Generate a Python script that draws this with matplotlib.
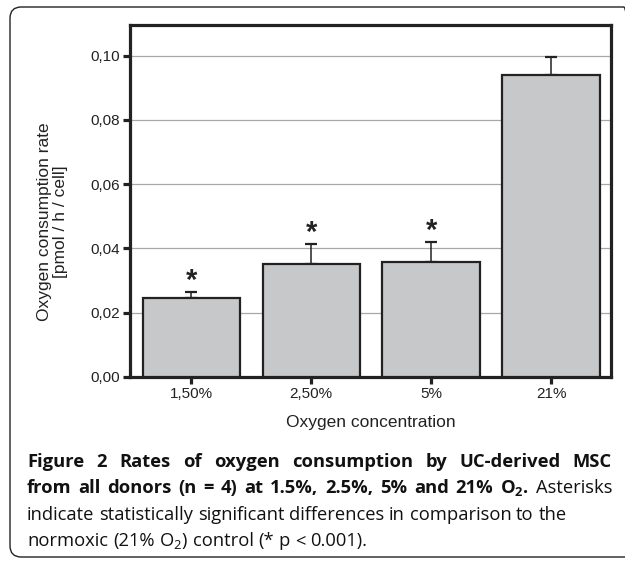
import numpy as np
import matplotlib.pyplot as plt
from matplotlib.patches import FancyBboxPatch

# data
categories = ['1,50%', '2,50%', '5%', '21%']
rates = [0.0245, 0.0350, 0.0357, 0.0940]
errors = [0.0020, 0.0065, 0.0062, 0.0055]
significant = [True, True, True, False]
y_ticks = [0.00, 0.02, 0.04, 0.06, 0.08, 0.10]
y_ticklabels = ['0,00', '0,02', '0,04', '0,06', '0,08', '0,10']

W, H = 625, 562
fig = plt.figure(figsize=(W / 100, H / 100), dpi=100)
plt.rcParams['font.family'] = ['Liberation Sans', 'DejaVu Sans']

# outer rounded frame of the figure panel
frame = FancyBboxPatch((10 / W, 1 - 557 / H), 625 / W, (557 - 7) / H,
                       boxstyle='round,pad=0,rounding_size=0.018',
                       transform=fig.transFigure, fill=False,
                       edgecolor='#222222', linewidth=1.0, clip_on=False,
                       mutation_aspect=W / H)
fig.patches.append(frame)

ax = fig.add_axes([130 / W, 1 - 377 / H, (611 - 130) / W, (377 - 25) / H])
x = np.arange(len(categories))
ax.bar(x, rates, width=0.81, color='#c7c8ca', edgecolor='#222222',
       linewidth=1.6, zorder=3)
ax.errorbar(x, rates, yerr=[np.zeros(len(errors)), errors], fmt='none',
            ecolor='#222222', elinewidth=1.1, capsize=4, capthick=1.6, zorder=2)
for xi, r, e, s in zip(x, rates, errors, significant):
    if s:
        ax.text(xi, r + e - 0.0009, '*', ha='center', va='bottom',
                fontsize=21, fontweight='bold', color='#222222')

ax.set_xlim(-0.51, 3.5)
ax.set_ylim(0, 0.1095)
ax.set_yticks(y_ticks)
ax.set_yticklabels(y_ticklabels)
ax.set_xticks(x)
ax.set_xticklabels(categories)
ax.yaxis.grid(True, color='#a8a8a8', linewidth=0.9, zorder=0)
ax.set_axisbelow(True)
for sp in ax.spines.values():
    sp.set_linewidth(2.3)
    sp.set_color('#222222')
ax.tick_params(axis='both', length=5, width=2.3, color='#222222',
               labelsize=11, labelcolor='#222222', pad=2)
ax.set_xlabel('Oxygen concentration', fontsize=12.5, color='#222222', labelpad=10)
ax.set_ylabel('Oxygen consumption rate\n[pmol / h / cell]', fontsize=12.5,
              color='#222222', linespacing=1.1)
ax.yaxis.set_label_coords(-0.128, 0.44)

# caption
renderer = fig.canvas.get_renderer()
cap_font = ['Open Sans', 'DejaVu Sans']
fs = 13.2
x0, x1 = 27 / W, 612 / W


def text_width(s, bold=False):
    t = fig.text(0, 0, s, fontsize=fs, family=cap_font,
                 fontweight='bold' if bold else 'normal')
    w = t.get_window_extent(renderer).width / W
    t.remove()
    return w


def place_line(words, y_px, justify):
    # words: list of (text, bold)
    y = 1 - y_px / H
    texts = []
    for w, b in words:
        t = fig.text(0, y, w, fontsize=fs, family=cap_font,
                     fontweight='bold' if b else 'normal', color='#111111',
                     va='baseline', ha='left')
        texts.append(t)
    widths = [t.get_window_extent(renderer).width / W for t in texts]
    gap = text_width('a a') - 2 * text_width('a')
    if justify and len(texts) > 1:
        gap = (x1 - x0 - sum(widths)) / (len(texts) - 1)
    pos = x0
    for t, w in zip(texts, widths):
        t.set_x(pos)
        pos += w + gap


line1 = [(w, True) for w in 'Figure 2 Rates of oxygen consumption by UC-derived MSC'.split()]
line2 = [(w, True) for w in 'from all donors (n = 4) at 1.5%, 2.5%, 5% and 21%'.split()]
line2 += [(r'$\mathregular{O_2}$.', True), ('Asterisks', False)]
line3 = [(w, False) for w in 'indicate statistically significant differences in comparison to the'.split()]
line4 = [(w, False) for w in 'normoxic (21%'.split()]
line4 += [(r'$\mathregular{O_2}$)', False)]
line4 += [(w, False) for w in 'control (* p < 0.001).'.split()]

place_line(line1, 467, True)
place_line(line2, 493, True)
place_line(line3, 520, False)
place_line(line4, 546, False)

fig.savefig('out.png', dpi=100)
